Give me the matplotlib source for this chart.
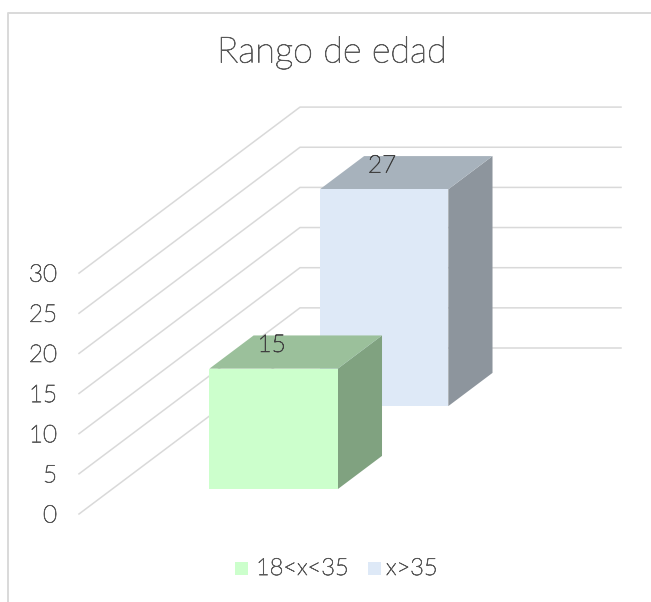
import matplotlib
matplotlib.use("Agg")
import matplotlib.pyplot as plt
import matplotlib.patheffects as pe
from matplotlib.patches import Polygon, Rectangle

# data
series_names = ["18<x<35", "x>35"]
series_values = [15, 27]
y_ticks = [0, 5, 10, 15, 20, 25, 30]

# colours per series: front, top, side
front_colors = ["#CCFFCC", "#DEE9F7"]
top_colors = ["#9BC09B", "#A7B2BC"]
side_colors = ["#80A280", "#8D959D"]
grid_color = "#D9D9D9"
text_color = "#595959"

W, H = 651, 602
# pixel sizes of the 3d box
px_per_value = 8.03
px_per_width = 321.0
depth_dx, depth_dy = 110.5, 83.0   # pixel shift for one series of depth
origin_x, origin_y = 79.0, 514.0   # front left floor corner, from the top left
bar_width = 0.4
bar_depth = 0.4
bar_center = 0.503

plt.rcParams["font.family"] = ["Lato", "DejaVu Sans"]
plt.rcParams["font.weight"] = "light"

# the light cut is too thin alone, thicken it a bit
stroke = [pe.withStroke(linewidth=0.55, foreground=text_color)]
stroke_dark = [pe.withStroke(linewidth=0.55, foreground="#404040")]

fig = plt.figure(figsize=(W / 100, H / 100), dpi=100)
ax = fig.add_axes([0, 0, 1, 1])
ax.set_xlim(-origin_x / px_per_width, (W - origin_x) / px_per_width)
ax.set_ylim(-(H - origin_y) / px_per_value, origin_y / px_per_value)
ax.axis("off")


def project(x, depth, value):
    """Oblique projection of category pos, series depth and value to data coords."""
    return (x + depth * depth_dx / px_per_width,
            value + depth * depth_dy / px_per_value)


# chart frame, only left and top edges are visible
frame_x = ax.get_xlim()[0] + 7.5 / px_per_width
frame_y = ax.get_ylim()[1] - 13 / px_per_value
ax.plot([frame_x, frame_x, ax.get_xlim()[1]], [ax.get_ylim()[0], frame_y, frame_y],
        color="#D9D9D9", lw=1.4, zorder=1)

# gridlines on the side floor and back wall
n_series = len(series_values)
for t in y_ticks:
    pts = [project(0, 0, t), project(0, n_series, t), project(1, n_series, t)]
    ax.plot([p[0] for p in pts], [p[1] for p in pts], color=grid_color, lw=1.1, zorder=2)
    ax.text(-22 / px_per_width, t - 0.25, str(t), ha="right", va="center",
            fontsize=17.5, color=text_color, path_effects=stroke)

# back series first so the front one overlaps it
for i in reversed(range(n_series)):
    val = series_values[i]
    x0 = bar_center - bar_width / 2
    x1 = bar_center + bar_width / 2
    d0 = i + (1 - bar_depth) / 2
    d1 = d0 + bar_depth
    z = 10 + (n_series - i)
    front = [project(x0, d0, 0), project(x1, d0, 0), project(x1, d0, val), project(x0, d0, val)]
    top = [project(x0, d0, val), project(x1, d0, val), project(x1, d1, val), project(x0, d1, val)]
    side = [project(x1, d0, 0), project(x1, d1, 0), project(x1, d1, val), project(x1, d0, val)]
    ax.add_patch(Polygon(side, closed=True, fc=side_colors[i], ec="none", zorder=z))
    ax.add_patch(Polygon(top, closed=True, fc=top_colors[i], ec="none", zorder=z))
    ax.add_patch(Polygon(front, closed=True, fc=front_colors[i], ec="none", zorder=z))
    lx, ly = project(bar_center, d0, val)
    ax.text(lx - 2 / px_per_width, ly + 2.9, str(val), ha="center", va="center", fontsize=17.5,
            color="#404040", zorder=30, path_effects=stroke_dark)

# title
ax.text(332 / W, 1 - 53 / H, "Rango de edad", transform=ax.transAxes, ha="center", va="center",
        fontsize=26, color=text_color, path_effects=stroke)

# legend, drawn by hand like the office one
leg_y = 1 - 568.5 / H
swatch_x = [235, 368]
label_x = [256, 386]
for i, name in enumerate(series_names):
    ax.add_patch(Rectangle((swatch_x[i] / W, leg_y - 6.5 / H), 13 / W, 13 / H,
                           transform=ax.transAxes, fc=front_colors[i], ec="none"))
    ax.text(label_x[i] / W, leg_y, name, transform=ax.transAxes, ha="left", va="center",
            fontsize=17, color=text_color, path_effects=stroke)

fig.savefig("out.png", dpi=100, facecolor="white")
